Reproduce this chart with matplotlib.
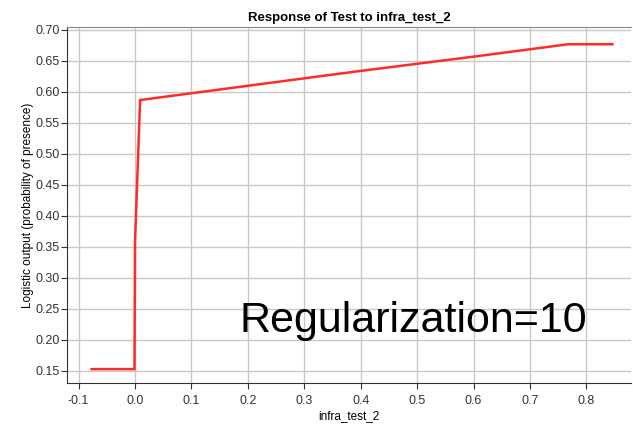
import matplotlib
matplotlib.use("Agg")
import matplotlib.pyplot as plt

plt.rcParams['font.family'] = ['Liberation Sans', 'DejaVu Sans']

x_vals = [-0.077, -0.001, 0.0, 0.009, 0.2, 0.4, 0.6, 0.768, 0.846]
y_vals = [0.153, 0.153, 0.36, 0.587, 0.610, 0.634, 0.657, 0.677, 0.677]
x_ticks = [-0.1, 0.0, 0.1, 0.2, 0.3, 0.4, 0.5, 0.6, 0.7, 0.8]
y_ticks = [0.15, 0.20, 0.25, 0.30, 0.35, 0.40, 0.45, 0.50, 0.55, 0.60, 0.65, 0.70]

fig = plt.figure(figsize=(6.33, 4.24), dpi=100)
ax = fig.add_axes([67/633, 1-383/424, (631-67)/633, (383-27)/424])
ax.plot(x_vals, y_vals, color='#ff2a2a', lw=1.8, solid_joinstyle='miter')
ax.set_xlim(-0.1206, 0.879)
ax.set_ylim(0.1306, 0.7048)
ax.set_xticks(x_ticks)
ax.set_xticklabels([f"{v:.1f}" for v in x_ticks])
ax.set_yticks(y_ticks)
ax.set_yticklabels([f"{v:.2f}" for v in y_ticks])
ax.grid(True, color='#c8c8c8', lw=1)
ax.set_axisbelow(True)
ax.tick_params(labelsize=9, colors='#333333', length=4, direction='out')
ax.tick_params(axis='y', pad=1)
ax.tick_params(axis='x', pad=5)
for s in ['left', 'bottom']:
    ax.spines[s].set_color('#333333')
ax.spines['top'].set_color('#888888')
ax.spines['right'].set_visible(False)
ax.set_title("Response of Test to infra_test_2", fontsize=9.5, fontweight='bold', pad=4)
ax.set_xlabel("infra_test_2", fontsize=8.5, labelpad=2)
ax.set_ylabel("Logistic output (probability of presence)", fontsize=8.5, labelpad=1)
ax.text(0.493, 0.2129, "Regularization=10", fontsize=31, color='black', ha='center', va='baseline')
fig.savefig("out.png", dpi=100)
